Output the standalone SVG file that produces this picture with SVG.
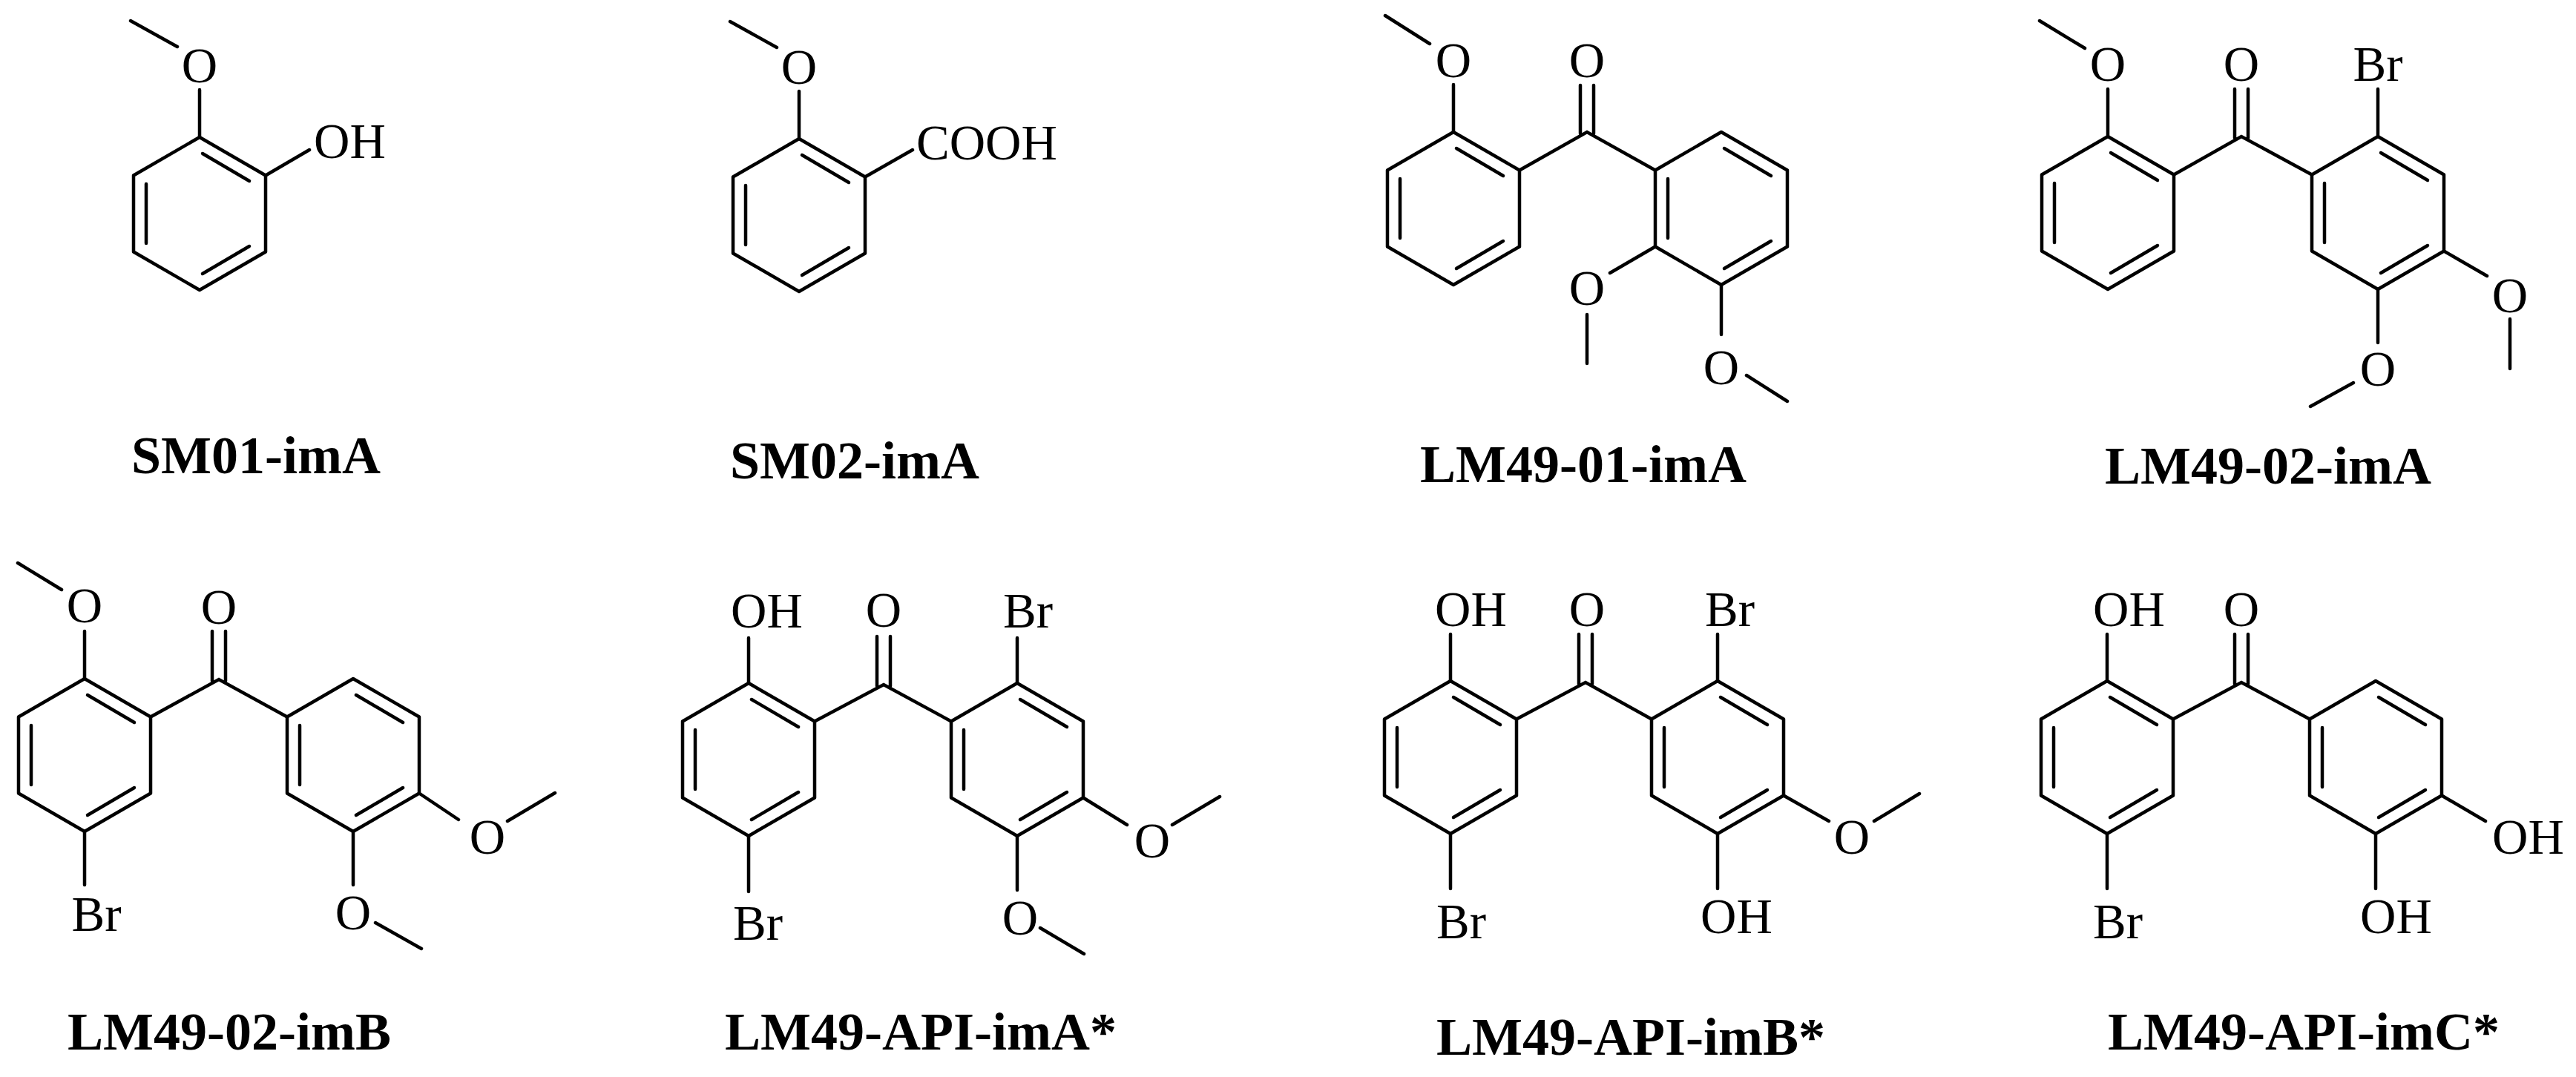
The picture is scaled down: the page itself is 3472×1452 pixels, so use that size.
<svg xmlns="http://www.w3.org/2000/svg" xmlns:xlink="http://www.w3.org/1999/xlink" width="3472" height="1452" viewBox="0 0 3472 1452">
<style>
line,polygon,path{stroke:#000;stroke-width:4.5;fill:none;stroke-linecap:round}
.a{font-family:"Liberation Serif",serif;font-size:67px;fill:#000}
.m{text-anchor:middle}
.lb{font-family:"Liberation Serif",serif;font-size:72px;font-weight:bold;fill:#000;text-anchor:middle}
</style>
<defs>
<g id="ring">
<polygon points="0,-103 89,-51.5 89,51.5 0,103 -89,51.5 -89,-51.5" stroke-linejoin="round"/>
<line x1="4" y1="-81" x2="67" y2="-44"/>
<line x1="-72" y1="-40" x2="-72" y2="40"/>
<line x1="67" y1="44" x2="4" y2="81"/>
</g>
</defs>
<rect width="3472" height="1452" fill="#fff"/>

<g id="SM01-imA">
<use xlink:href="#ring" x="269" y="288"/>
<path d="M269,185V121 M239,63L176,28 M358,236.5L417,202"/>
<text class="a m" x="269" y="111">O</text>
<text class="a" x="423" y="213">OH</text>
<text class="lb" x="345" y="638">SM01-imA</text>
</g>

<g id="SM02-imA">
<use xlink:href="#ring" x="1077" y="290"/>
<path d="M1077,187V123 M1047,64L984,29 M1166,238.5L1230,202"/>
<text class="a m" x="1077" y="113">O</text>
<text class="a" x="1235" y="215">COOH</text>
<text class="lb" x="1152" y="645">SM02-imA</text>
</g>

<g id="LM49-01-imA">
<use xlink:href="#ring" x="1959" y="281"/>
<use xlink:href="#ring" x="2320" y="281"/>
<path d="M1959,178V114 M1927,59L1867,21 M2048,229.5L2139,178L2231,229.5 M2130,180V115 M2148,180V115 M2231,332.5L2170,368 M2139,424V490 M2320,384V451 M2354,506L2409,541"/>
<text class="a m" x="1959" y="104">O</text>
<text class="a m" x="2139" y="104">O</text>
<text class="a m" x="2139" y="411">O</text>
<text class="a m" x="2320" y="518">O</text>
<text class="lb" x="2134" y="650">LM49-01-imA</text>
</g>

<g id="LM49-02-imA">
<use xlink:href="#ring" x="2841" y="287"/>
<use xlink:href="#ring" x="3205" y="287"/>
<path d="M2841,184V120 M2810,65L2749,28 M2930,235.5L3021,184L3116,235.5 M3012,186V120 M3030,186V120 M3205,184V120 M3294,338.5L3352,372 M3383,430V497 M3205,390V462 M3172,516L3114,548"/>
<text class="a m" x="2841" y="109">O</text>
<text class="a m" x="3021" y="109">O</text>
<text class="a m" x="3205" y="109">Br</text>
<text class="a m" x="3383" y="421">O</text>
<text class="a m" x="3205" y="520">O</text>
<text class="lb" x="3057" y="652">LM49-02-imA</text>
</g>

<g id="LM49-02-imB">
<use xlink:href="#ring" x="114" y="1018"/>
<use xlink:href="#ring" x="476" y="1018"/>
<path d="M114,915V851 M83,795L24,759 M203,966.5L295,916L387,966.5 M286,918V851 M304,918V851 M114,1121V1193 M565,1069.5L618,1105 M684,1107L748,1069 M476,1121V1193 M506,1244L568,1279"/>
<text class="a m" x="114" y="839">O</text>
<text class="a m" x="295" y="841">O</text>
<text class="a m" x="130" y="1255">Br</text>
<text class="a m" x="657" y="1151">O</text>
<text class="a m" x="476" y="1253">O</text>
<text class="lb" x="309" y="1415">LM49-02-imB</text>
</g>

<g id="LM49-API-imA">
<use xlink:href="#ring" x="1009" y="1024"/>
<use xlink:href="#ring" x="1371" y="1024"/>
<path d="M1009,921V860 M1098,972.5L1191,923L1282,972.5 M1182,925V858 M1200,925V858 M1371,921V860 M1009,1127V1202 M1460,1075.5L1519,1112 M1580,1112L1644,1074 M1371,1127V1200 M1402,1251L1461,1286"/>
<text class="a" x="985" y="846">OH</text>
<text class="a m" x="1191" y="845">O</text>
<text class="a" x="1352" y="846">Br</text>
<text class="a" x="988" y="1267">Br</text>
<text class="a m" x="1553" y="1156">O</text>
<text class="a m" x="1375" y="1260">O</text>
<text class="lb" x="1241" y="1415">LM49-API-imA*</text>
</g>

<g id="LM49-API-imB">
<use xlink:href="#ring" x="1955" y="1021"/>
<use xlink:href="#ring" x="2315" y="1021"/>
<path d="M1955,918V855 M2044,969.5L2137,920L2226,969.5 M2128,922V855 M2146,922V855 M2315,918V855 M1955,1124V1198 M2404,1072.5L2465,1107 M2526,1107L2587,1070 M2315,1124V1198"/>
<text class="a" x="1934" y="844">OH</text>
<text class="a m" x="2139" y="844">O</text>
<text class="a" x="2298" y="844">Br</text>
<text class="a" x="1936" y="1265">Br</text>
<text class="a m" x="2496" y="1151">O</text>
<text class="a" x="2292" y="1258">OH</text>
<text class="lb" x="2198" y="1422">LM49-API-imB*</text>
</g>

<g id="LM49-API-imC">
<use xlink:href="#ring" x="2840" y="1021"/>
<use xlink:href="#ring" x="3202" y="1021"/>
<path d="M2840,918V855 M2929,969.5L3021,920L3113,969.5 M3012,922V855 M3030,922V855 M2840,1124V1198 M3291,1072.5L3350,1107 M3202,1124V1198"/>
<text class="a" x="2821" y="844">OH</text>
<text class="a m" x="3021" y="844">O</text>
<text class="a" x="2821" y="1265">Br</text>
<text class="a" x="3359" y="1151">OH</text>
<text class="a" x="3181" y="1258">OH</text>
<text class="lb" x="3105" y="1415">LM49-API-imC*</text>
</g>
</svg>
